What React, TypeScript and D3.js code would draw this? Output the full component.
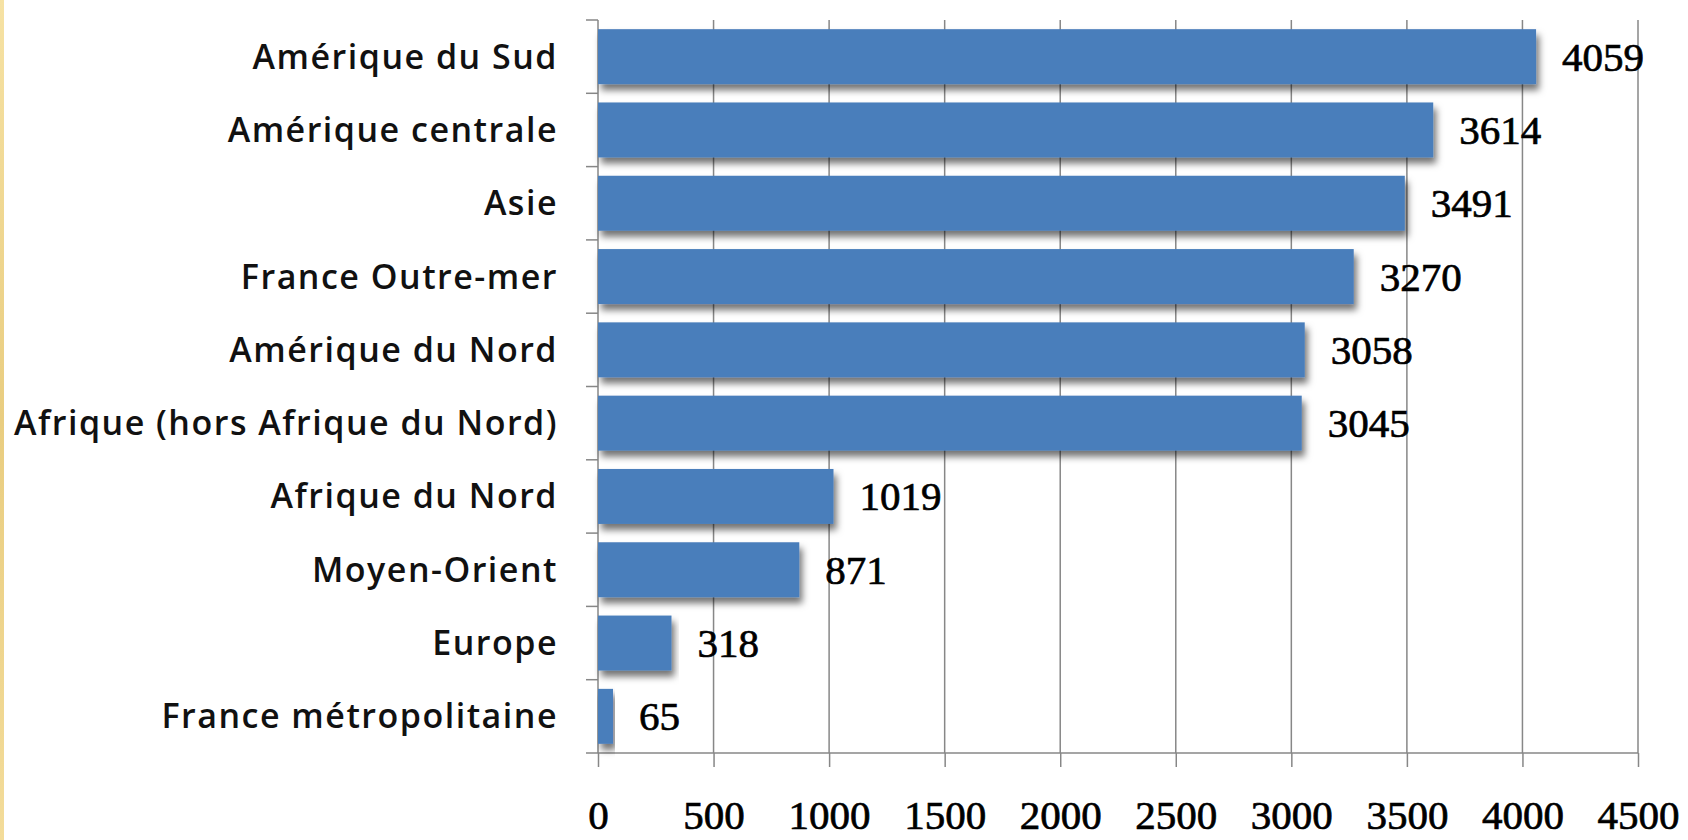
import * as React from 'react';
import * as d3 from 'd3';

const categories = [
  'Amérique du Sud',
  'Amérique centrale',
  'Asie',
  'France Outre-mer',
  'Amérique du Nord',
  'Afrique (hors Afrique du Nord)',
  'Afrique du Nord',
  'Moyen-Orient',
  'Europe',
  'France métropolitaine',
];
const values = [4059, 3614, 3491, 3270, 3058, 3045, 1019, 871, 318, 65];
const xTicks = [0, 500, 1000, 1500, 2000, 2500, 3000, 3500, 4000, 4500];

const W = 1688;
const H = 840;

const App: React.FC = () => {
  const svgRef = React.useRef<SVGSVGElement>(null);

  React.useEffect(() => {
    const svg = d3.select(svgRef.current);
    svg.selectAll('*').remove();

    const left = 598, right = 1638, top = 20, bottom = 753;

    const x = d3.scaleLinear().domain([0, 4500]).range([left, right]);
    const y = d3.scaleBand<string>()
      .domain(categories)
      .range([top, bottom])
      .paddingInner(0.25)
      .paddingOuter(0.125);

    const defs = svg.append('defs');
    const grad = defs.append('linearGradient').attr('id', 'gold').attr('x1', 0).attr('x2', 0).attr('y1', 0).attr('y2', 1);
    grad.append('stop').attr('offset', '0%').attr('stop-color', '#f6e2a4');
    grad.append('stop').attr('offset', '50%').attr('stop-color', '#e9cd80');
    grad.append('stop').attr('offset', '100%').attr('stop-color', '#f3dc9a');

    const f = defs.append('filter').attr('id', 'shadow')
      .attr('x', '-5%').attr('y', '-20%').attr('width', '115%').attr('height', '160%');
    f.append('feDropShadow')
      .attr('dx', 3).attr('dy', 6).attr('stdDeviation', 3.5)
      .attr('flood-color', '#000').attr('flood-opacity', 0.55);

    svg.append('rect').attr('width', W).attr('height', H).attr('fill', '#fff');
    svg.append('rect').attr('width', 4).attr('height', H).attr('fill', 'url(#gold)');

    // vertical gridlines
    svg.append('g')
      .selectAll('line')
      .data(xTicks.slice(1))
      .enter().append('line')
        .attr('x1', d => x(d)).attr('x2', d => x(d))
        .attr('y1', top).attr('y2', bottom)
        .attr('stroke', '#878787').attr('stroke-width', 1.5);

    // bottom axis
    const xAxis = d3.axisBottom(x).tickValues(xTicks).tickSize(14).tickFormat(d => String(d));
    const gx = svg.append('g').attr('transform', `translate(0,${bottom})`).call(xAxis);
    gx.select('.domain').attr('stroke', '#878787').attr('stroke-width', 1.5)
      .attr('d', `M${left - 12},0H${right}`);
    gx.selectAll('.tick line').attr('stroke', '#878787').attr('stroke-width', 1.5);
    gx.selectAll('.tick text')
      .attr('y', 76).attr('dy', 0)
      .attr('fill', '#000')
      .attr('font-family', "'Liberation Serif', serif")
      .attr('font-size', 41)
      .attr('stroke', '#000').attr('stroke-width', 0.7);

    // left axis
    const gy = svg.append('g').attr('transform', `translate(${left},0)`);
    gy.append('line').attr('x1', 0).attr('x2', 0).attr('y1', top).attr('y2', bottom)
      .attr('stroke', '#878787').attr('stroke-width', 1.5);
    gy.selectAll('line.tk')
      .data(d3.range(categories.length))
      .enter().append('line')
        .attr('class', 'tk')
        .attr('x1', -12).attr('x2', 0)
        .attr('y1', i => top + i * y.step()).attr('y2', i => top + i * y.step())
        .attr('stroke', '#878787').attr('stroke-width', 1.5);

    // bars
    svg.append('g')
      .selectAll('rect')
      .data(values)
      .enter().append('rect')
        .attr('x', x(0))
        .attr('y', (d, i) => y(categories[i])!)
        .attr('width', d => x(d) - x(0))
        .attr('height', y.bandwidth())
        .attr('fill', '#4a7ebb')
        .attr('filter', 'url(#shadow)');

    // value labels
    svg.append('g')
      .selectAll('text')
      .data(values)
      .enter().append('text')
        .attr('x', d => x(d) + 26)
        .attr('y', (d, i) => y(categories[i])! + y.bandwidth() / 2 + 14)
        .attr('font-family', "'Liberation Serif', serif")
        .attr('font-size', 41)
        .attr('fill', '#000')
        .attr('stroke', '#000').attr('stroke-width', 0.7)
        .text(d => String(d));

    // category labels
    svg.append('g')
      .selectAll('text')
      .data(categories)
      .enter().append('text')
        .attr('x', 558)
        .attr('y', d => y(d)! + y.bandwidth() / 2 + 12)
        .attr('text-anchor', 'end')
        .attr('font-family', "'Open Sans', sans-serif")
        .attr('font-weight', 600)
        .attr('font-size', 34)
        .attr('letter-spacing', 1.5)
        .attr('fill', '#111')
        .text(d => d);
  }, []);

  return (
    <svg ref={svgRef} width={W} height={H}
      style={{ position: 'absolute', left: 0, top: 0, display: 'block' }}></svg>
  );
};

export default App;
